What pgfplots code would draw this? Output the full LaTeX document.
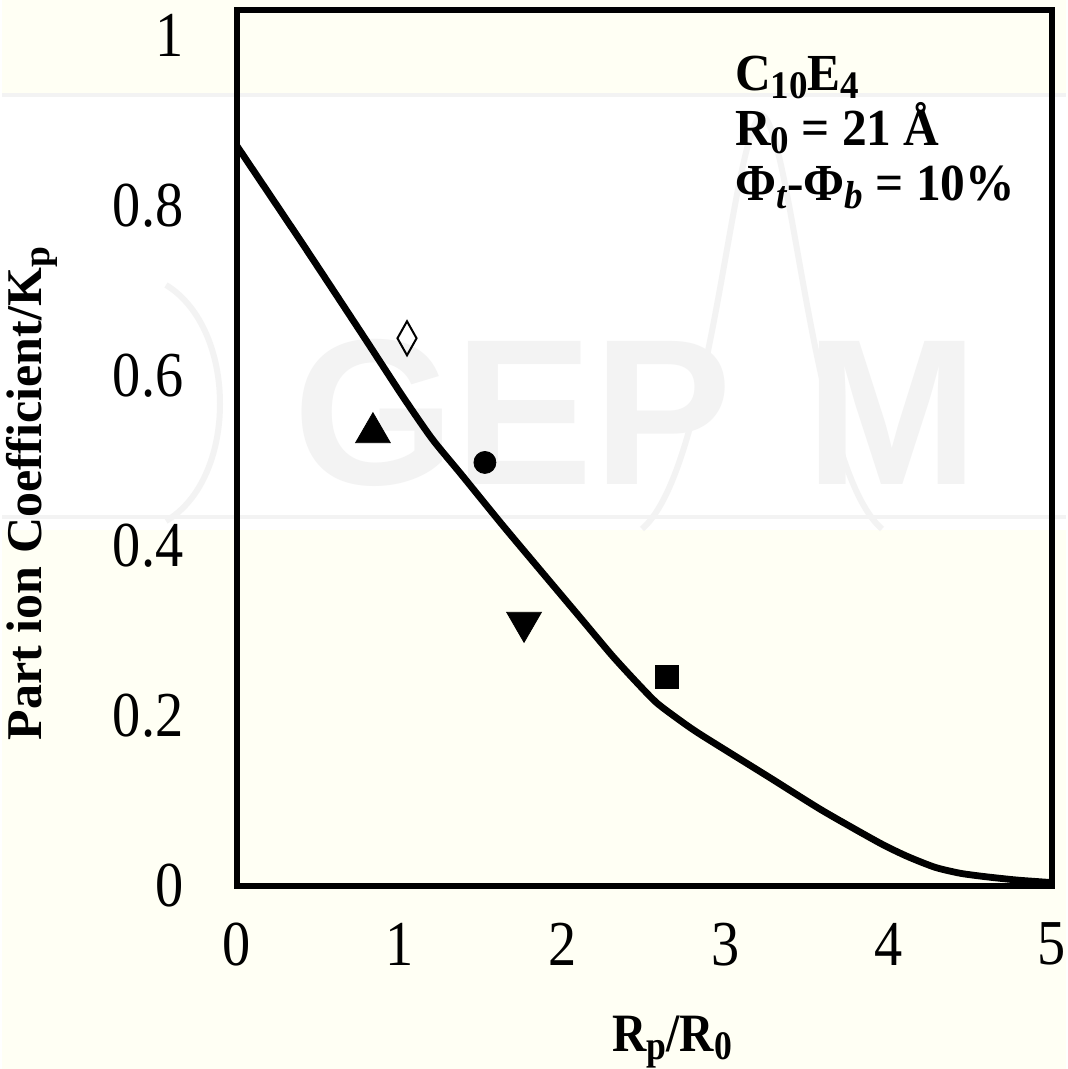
\documentclass[border=0pt]{standalone}
\usepackage{fontspec}
\setmainfont{Liberation Serif}
\newfontfamily\wmfont{Liberation Sans}
\usepackage{pgfplots}
\pgfplotsset{compat=1.18}
\definecolor{cream}{RGB}{255,255,244}
\definecolor{wm}{RGB}{243,243,243}
\newcommand{\sub}[1]{\raisebox{-0.32ex}{\scalebox{0.75}{#1}}}

\begin{document}
\begin{tikzpicture}[x=1pt,y=1pt]
% page background and watermark band (1px = 0.5pt)
\fill[cream] (0,0) rectangle (532,534.5);
\fill[white] (0,269.5) rectangle (532,487);
\draw[wm,line width=2pt] (0,487) -- (532,487);
\draw[wm,line width=2pt] (0,276) -- (532,276);
\draw[wm,line width=3pt] (82,392) .. controls (118,370) and (118,295) .. (82,274);
\node[wm,font=\wmfont\bfseries\fontsize{104}{104}\selectfont,anchor=base west] at (142,292) {GEP};
\node[wm,font=\wmfont\bfseries\fontsize{104}{104}\selectfont,anchor=base west] at (398,292) {M};
\draw[wm,line width=3pt] (320,270) .. controls (355,300) and (365,470) .. (380,477)
  .. controls (395,470) and (405,300) .. (440,270);
\useasboundingbox (0,0) rectangle (532,534.5);

\begin{axis}[
  at={(117.5pt,91.5pt)}, anchor=south west,
  scale only axis, width=407.5pt, height=438pt,
  xmin=0, xmax=5, ymin=0, ymax=1.03,
  xtick={0,1,2,3,4,5},
  ytick={0,0.2,0.4,0.6,0.8,1},
  yticklabels={0,0.2,0.4,0.6,0.8,1},
  major tick length=0pt,
  axis line style={line width=3pt},
  /pgf/number format/assume math mode=true,
  tick label style={font=\fontsize{32}{36}\selectfont, xscale=0.88},
  yticklabel style={xshift=-27pt},
  xticklabel style={yshift=-15pt},
  xlabel={\textbf{R\sub{p}/R\sub{0}}},
  ylabel={\textbf{Part ion Coefficient/K\sub{p}}},
  xlabel style={font=\fontsize{27}{30}\selectfont, xscale=0.88,
    at={(axis description cs:0.534,-0.178)}, anchor=center},
  ylabel style={font=\fontsize{25}{30}\selectfont,
    at={(axis description cs:-0.2515,0.448)}, anchor=center},
]
% model curve
\addplot[black, line width=3.4pt, smooth, tension=0.4] coordinates {
  (0,0.870) (0.399,0.756) (0.767,0.649) (1.012,0.577) (1.196,0.526)
  (1.380,0.483) (1.626,0.425) (1.871,0.369) (2.117,0.313) (2.301,0.271)
  (2.454,0.239) (2.577,0.215) (2.730,0.193) (2.853,0.177) (3.264,0.128)
  (3.589,0.089) (3.939,0.051) (4.110,0.035) (4.282,0.022) (4.436,0.015)
  (4.589,0.011) (4.785,0.007) (5.0,0.004)
};
% experimental points
\addplot[only marks, mark=diamond, mark size=8.5pt,
  mark options={black, fill=white, line width=1pt, xscale=0.75}]
  coordinates {(1.043,0.644)};
\addplot[only marks, mark=triangle*, mark size=10pt, black]
  coordinates {(0.834,0.533)};
\addplot[only marks, mark=*, mark size=5.5pt, black]
  coordinates {(1.521,0.498)};
\addplot[only marks, mark=triangle*, mark size=10pt, black,
  mark options={rotate=180}]
  coordinates {(1.761,0.310)};
\addplot[only marks, mark=square*, mark size=5.75pt, black]
  coordinates {(2.638,0.246)};

\node[anchor=north west, align=left, font=\fontsize{26}{27.5}\selectfont\bfseries, xscale=0.95]
  at (axis description cs:0.603,0.955)
  {C\sub{10}E\sub{4}\\ R\sub{0} = 21 Å\\ Φ\sub{\textit{t}}-Φ\sub{\textit{b}} = 10\%};
\end{axis}
\end{tikzpicture}
\end{document}
